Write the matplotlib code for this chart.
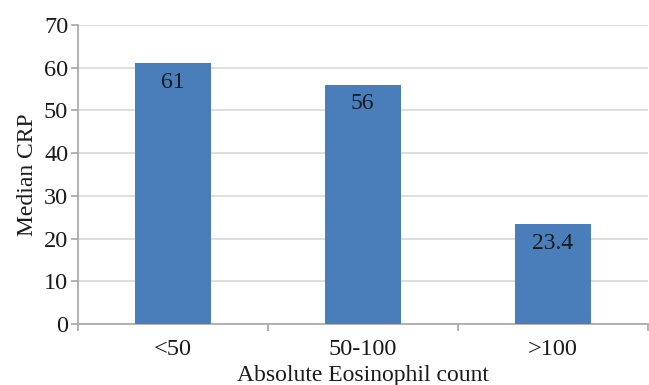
import matplotlib.pyplot as plt
import numpy as np

categories = ["<50", "50-100", ">100"]
median_crp = [61, 56, 23.4]
value_labels = ["61", "56", "23.4"]
y_ticks = [0, 10, 20, 30, 40, 50, 60, 70]

plt.rcParams['font.family'] = ['Liberation Serif', 'DejaVu Serif']

fig = plt.figure(figsize=(6.49, 3.85), dpi=100)
ax = fig.add_axes([0.120, 0.158, 0.878, 0.777])

x = np.arange(len(categories))
bars = ax.bar(x, median_crp, width=0.4, color="#4a7ebb", zorder=3)

for rect, lab in zip(bars, value_labels):
    ax.annotate(lab, (rect.get_x() + rect.get_width() / 2, rect.get_height()),
                xytext=(0, -6), textcoords="offset points",
                ha="center", va="top", fontsize=17, color="#1a1a1a", zorder=4)

ax.set_xlim(-0.5, len(categories) - 0.5)
ax.set_ylim(0, 70)
ax.set_yticks(y_ticks)
ax.yaxis.grid(True, color="#d9d9d9", linewidth=1.2, zorder=0)

# category labels centred, tick marks between categories
ax.set_xticks(x)
ax.set_xticklabels(categories, fontsize=17.5, color="#1a1a1a")
ax.set_xticks(np.arange(len(categories) + 1) - 0.5, minor=True)
ax.tick_params(axis="x", which="major", length=0, pad=11)
ax.tick_params(axis="x", which="minor", length=5, color="#a6a6a6", width=1.2)
ax.tick_params(axis="y", length=5, color="#a6a6a6", width=1.2,
               labelsize=17.5, labelcolor="#1a1a1a", pad=2)

for side in ["top", "right"]:
    ax.spines[side].set_visible(False)
for side in ["left", "bottom"]:
    ax.spines[side].set_color("#a6a6a6")
    ax.spines[side].set_linewidth(1.2)

ax.set_ylabel("Median CRP", fontsize=17, color="#1a1a1a", labelpad=4)
ax.set_xlabel("Absolute Eosinophil count", fontsize=17, color="#1a1a1a", labelpad=3)

fig.savefig("out.png", dpi=100)
